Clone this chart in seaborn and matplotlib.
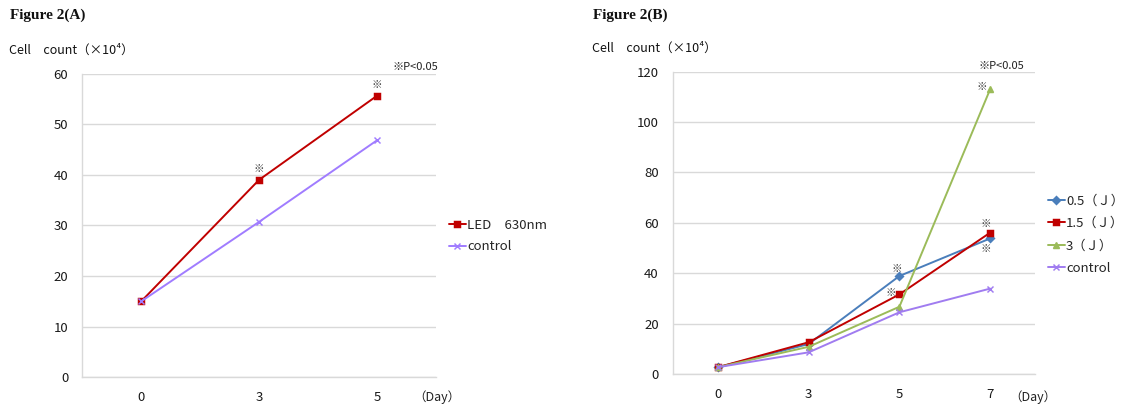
import numpy as np
import pandas as pd
import seaborn as sns
import matplotlib
matplotlib.use("Agg")
import matplotlib.pyplot as plt

# Figure 2(A) data
days_a = ["0", "3", "5"]
led_630 = [15.0, 39.0, 55.6]
control_a = [15.0, 30.7, 46.8]
series_a = ["LED\u3000630nm", "control"]
signif_a = [("LED\u3000630nm", "3"), ("LED\u3000630nm", "5")]

# Figure 2(B) data
days_b = ["0", "3", "5", "7"]
dose_05 = [2.7, 11.9, 38.9, 53.8]
dose_15 = [2.7, 12.6, 31.6, 56.1]
dose_3 = [2.7, 10.8, 26.7, 113.0]
control_b = [2.7, 8.6, 24.5, 33.9]
series_b = ["0.5\uff08\uff2a\uff09", "1.5\uff08\uff2a\uff09", "3\uff08\uff2a\uff09", "control"]

sns.set_theme(style="white")
plt.rcParams["font.family"] = ["Noto Sans CJK JP", "DejaVu Sans"]

GRID = "#d9d9d9"

df_a = pd.DataFrame({
    "Day": days_a * 2,
    "Count": led_630 + control_a,
    "Group": [series_a[0]] * 3 + [series_a[1]] * 3,
})
df_b = pd.DataFrame({
    "Day": days_b * 4,
    "Count": dose_05 + dose_15 + dose_3 + control_b,
    "Group": sum([[s] * 4 for s in series_b], []),
})

fig = plt.figure(figsize=(11.22, 4.08), dpi=100)
ax_a = fig.add_axes([0.0733, 0.0752, 0.3152, 0.7446])
ax_b = fig.add_axes([0.5994, 0.0833, 0.3235, 0.741])

pal_a = {series_a[0]: "#c00000", series_a[1]: "#a07cff"}
sns.pointplot(data=df_a, x="Day", y="Count", hue="Group", order=days_a,
              hue_order=series_a, palette=pal_a, markers=["s", "x"],
              linestyles="-", errorbar=None, ax=ax_a,
              markersize=5, linewidth=1.4)

pal_b = {series_b[0]: "#4a7ebb", series_b[1]: "#c00000",
         series_b[2]: "#9bbb59", series_b[3]: "#a07cf0"}
sns.pointplot(data=df_b, x="Day", y="Count", hue="Group", order=days_b,
              hue_order=series_b, palette=pal_b, markers=["D", "s", "^", "x"],
              linestyles="-", errorbar=None, ax=ax_b,
              markersize=4.5, linewidth=1.4)

for ax, top, step, n in [(ax_a, 60, 10, len(days_a)), (ax_b, 120, 20, len(days_b))]:
    ax.set_ylim(0, top)
    ax.set_yticks(np.arange(0, top + 1, step))
    ax.set_xlim(-0.5, n - 0.5)
    ax.set_xlabel("")
    ax.set_ylabel("")
    ax.grid(axis="y", color=GRID, linewidth=1)
    ax.set_axisbelow(True)
    for side in ["top", "right"]:
        ax.spines[side].set_visible(False)
    for side in ["left", "bottom"]:
        ax.spines[side].set_color(GRID)
        ax.spines[side].set_linewidth(1)
    ax.tick_params(axis="y", length=0, pad=10, labelsize=9.5, colors="#1a1a1a")
    ax.tick_params(axis="x", length=0, pad=10, labelsize=9.5, colors="#1a1a1a")
    ax.get_legend().remove()

# significance marks
vals_a = {series_a[0]: led_630, series_a[1]: control_a}
for grp, d in signif_a:
    i = days_a.index(d)
    ax_a.annotate("※", xy=(i, vals_a[grp][i]), xytext=(0, 8), textcoords="offset points",
                  ha="center", va="center", fontsize=7.5, color="#404040")

vals_b = dict(zip(series_b, [dose_05, dose_15, dose_3, control_b]))
marks_b = [(series_b[0], "5", (-2, 5)), (series_b[1], "5", (-6, 1)),
           (series_b[1], "7", (-3, 6)), (series_b[0], "7", (-3, -7.5)),
           (series_b[2], "7", (-6, 2))]
for grp, d, off in marks_b:
    i = days_b.index(d)
    ax_b.annotate("※", xy=(i, vals_b[grp][i]), xytext=off, textcoords="offset points",
                  ha="center", va="center", fontsize=7.5, color="#404040")

# legends
h, l = ax_a.get_legend_handles_labels()
fig.legend(h, l, loc="upper left", bbox_to_anchor=(442 / 1122, 1 - 212 / 408),
           frameon=False, fontsize=9.5, handlelength=1.3, handletextpad=0.1,
           labelspacing=0.65, borderpad=0)
h, l = ax_b.get_legend_handles_labels()
fig.legend(h, l, loc="upper left", bbox_to_anchor=(1041 / 1122, 1 - 188 / 408),
           frameon=False, fontsize=9.5, handlelength=1.3, handletextpad=0.1,
           labelspacing=0.72, borderpad=0)

# titles and axis captions
for x, label in [(10, "Figure 2(A)"), (593, "Figure 2(B)")]:
    fig.text(x / 1122, 1 - 15 / 408, label, family="Liberation Serif",
             fontsize=11, weight="bold", va="center", ha="left", color="#111111")
for x, y in [(9, 50), (592, 48)]:
    fig.text(x / 1122, 1 - y / 408, "Cell\u3000count\uff08\u00d710\u2074\uff09",
             fontsize=9, va="center", ha="left", color="#111111")
fig.text(438 / 1122, 1 - 67 / 408, "※P<0.05", fontsize=8, ha="right", va="center", color="#222222")
fig.text(978 / 1122, 1 - 66 / 408, "※P<0.05", fontsize=8, ha="left", va="center", color="#222222")
fig.text(437 / 1122, 1 - 397 / 408, "\uff08Day\uff09", fontsize=9, ha="center", va="center", color="#222222")
fig.text(1033 / 1122, 1 - 397 / 408, "\uff08Day\uff09", fontsize=9, ha="center", va="center", color="#222222")

fig.savefig("out.png", dpi=100)
